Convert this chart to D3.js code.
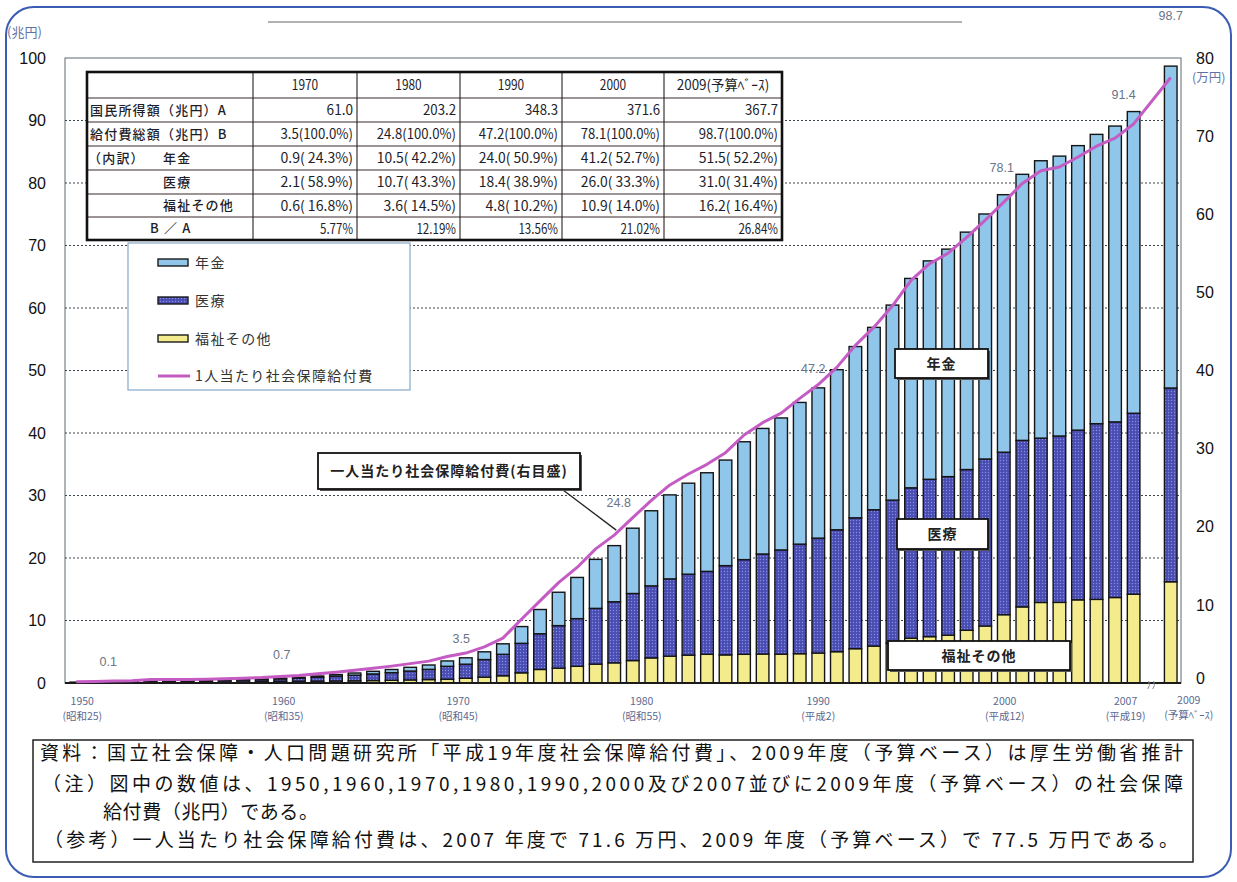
<!DOCTYPE html>
<html lang="ja">
<head>
<meta charset="utf-8">
<script src="https://cdn.jsdelivr.net/npm/d3@7"></script>
<style>
  html, body { margin: 0; padding: 0; background: #fff; }
  svg { display: block; }
</style>
</head>
<body>
<svg id="chart" width="1237" height="882"></svg>
<script>
// 社会保障給付費の部門別推移（兆円）と一人当たり給付費（万円）
const years = d3.range(1950, 2008).concat([2009]);

// 福祉その他（兆円）
const welfare = [0.07,0.07,0.09,0.10,0.12,0.10,0.10,0.11,0.13,0.16,
  0.26,0.27,0.28,0.30,0.32,0.34,0.39,0.43,0.49,0.55,
  0.59,0.76,0.94,1.16,1.63,2.17,2.37,2.67,3.02,3.23,
  3.59,4.02,4.30,4.46,4.59,4.50,4.59,4.64,4.62,4.69,
  4.80,5.01,5.49,5.91,6.36,7.17,7.42,7.65,8.43,9.12,
  10.93,12.18,12.89,12.90,13.31,13.38,13.68,14.21,
  16.2];
// 医療（兆円）
const medical = [0.06,0.08,0.11,0.13,0.18,0.19,0.20,0.22,0.27,0.31,
  0.29,0.39,0.48,0.62,0.77,0.91,1.06,1.23,1.42,1.63,
  2.08,2.25,2.81,3.43,4.72,5.71,6.81,7.63,8.92,9.77,
  10.73,11.52,12.36,12.95,13.27,14.28,15.15,16.00,16.67,17.53,
  18.38,19.51,20.94,21.81,22.90,24.06,25.17,25.37,25.72,26.72,
  26.00,26.64,26.29,26.62,27.15,28.11,28.10,28.95,
  31.0];
// 年金（兆円）
const pension = [0.00,0.01,0.02,0.03,0.08,0.10,0.10,0.11,0.11,0.11,
  0.11,0.13,0.16,0.20,0.26,0.35,0.42,0.50,0.60,0.70,
  0.86,1.02,1.24,1.68,2.68,3.88,5.34,6.59,7.84,8.98,
  10.45,12.02,13.44,14.56,15.78,16.89,18.86,20.09,21.12,22.67,
  24.04,25.61,27.40,29.18,31.21,33.50,34.95,36.40,37.99,39.20,
  41.20,42.57,44.38,44.78,45.52,46.29,47.33,48.27,
  51.5];
// 一人当たり社会保障給付費（万円、右目盛）
const perCapita = [0.15,0.19,0.26,0.30,0.44,0.44,0.45,0.48,0.55,0.62,
  0.70,0.84,0.97,1.17,1.39,1.63,1.89,2.16,2.48,2.80,
  3.40,3.83,4.63,5.74,8.16,10.51,12.84,14.79,17.17,18.93,
  21.16,23.38,25.35,26.75,27.99,29.48,31.74,33.32,34.55,36.43,
  38.20,40.40,43.22,45.55,48.28,51.55,53.67,55.02,57.04,59.24,
  61.55,63.95,65.58,66.05,67.33,68.71,69.74,71.56,
  77.5];

// 数値を表示する年度
const labelYears = [1950, 1960, 1970, 1980, 1990, 2000, 2007, 2009];

// 横軸の目盛
const tickYears = ["1950", "1960", "1970", "1980", "1990", "2000", "2007", "2009"];
const tickEras = ["(昭和25)", "(昭和35)", "(昭和45)", "(昭和55)", "(平成2)", "(平成12)", "(平成19)", "(予算ﾍﾞｰｽ)"];
const leftTicks = d3.range(0, 101, 10);
const rightTicks = d3.range(0, 81, 10);

// 表
const tableHeads = ["1970", "1980", "1990", "2000", "2009(予算ﾍﾞｰｽ)"];
const rowIncome = ["61.0", "203.2", "348.3", "371.6", "367.7"];
const rowTotal = ["3.5(100.0%)", "24.8(100.0%)", "47.2(100.0%)", "78.1(100.0%)", "98.7(100.0%)"];
const rowPension = ["0.9( 24.3%)", "10.5( 42.2%)", "24.0( 50.9%)", "41.2( 52.7%)", "51.5( 52.2%)"];
const rowMedical = ["2.1( 58.9%)", "10.7( 43.3%)", "18.4( 38.9%)", "26.0( 33.3%)", "31.0( 31.4%)"];
const rowWelfare = ["0.6( 16.8%)", "3.6( 14.5%)", "4.8( 10.2%)", "10.9( 14.0%)", "16.2( 16.4%)"];
const rowRatio = ["5.77%", "12.19%", "13.56%", "21.02%", "26.84%"];

const legendNames = ["年金", "医療", "福祉その他", "1人当たり社会保障給付費"];

const footerText = [
  "資料：国立社会保障・人口問題研究所「平成19年度社会保障給付費」、2009年度（予算ベース）は厚生労働省推計",
  "（注）図中の数値は、1950,1960,1970,1980,1990,2000及び2007並びに2009年度（予算ベース）の社会保障",
  "給付費（兆円）である。",
  "（参考）一人当たり社会保障給付費は、2007 年度で 71.6 万円、2009 年度（予算ベース）で 77.5 万円である。"
];

// ---------- layout ----------
const JP = "'Noto Sans CJK JP', 'Noto Sans', sans-serif";
const NUM = "'Liberation Sans', Arial, sans-serif";
const COL = { pension: "#8fc6ea", medBase: "#4a4cb2", medDot: "#8190e2", welfare: "#f4ec8c", line: "#c45cc4" };
const plot = { left: 65, right: 1181, top: 58, bottom: 683 };

const svg = d3.select("#chart");

const x = d3.scaleBand()
  .domain(d3.range(1950, 2010).map(String))
  .range([67, 1180])
  .paddingInner(0.32)
  .paddingOuter(0.16);
const bw = x.bandwidth();
const cx = yr => x(String(yr)) + bw / 2;
const yL = d3.scaleLinear().domain([0, 100]).range([plot.bottom, plot.top]);
const yR = d3.scaleLinear().domain([0, 80]).range([plot.bottom, plot.top]);

// patterns
const defs = svg.append("defs");
const pat = defs.append("pattern").attr("id", "medDots")
  .attr("width", 3).attr("height", 3).attr("patternUnits", "userSpaceOnUse");
pat.append("rect").attr("width", 3).attr("height", 3).attr("fill", COL.medBase);
pat.append("circle").attr("cx", 1.5).attr("cy", 1.5).attr("r", 0.7).attr("fill", COL.medDot);

// outer rounded frame and top rule
svg.append("rect").attr("x", 6).attr("y", 7).attr("width", 1225).attr("height", 870)
  .attr("rx", 28).attr("fill", "none").attr("stroke", "#3a5cb4").attr("stroke-width", 2);
svg.append("line").attr("x1", 268).attr("x2", 962).attr("y1", 22).attr("y2", 22)
  .attr("stroke", "#9a9a9a").attr("stroke-width", 1.5);

// plot frame
svg.append("rect").attr("x", plot.left).attr("y", plot.top)
  .attr("width", plot.right - plot.left).attr("height", plot.bottom - plot.top)
  .attr("fill", "none").attr("stroke", "#5a6a70").attr("stroke-width", 1);

// grid
svg.append("g").selectAll("line").data(leftTicks.filter(v => v > 0 && v < 100)).join("line")
  .attr("x1", plot.left).attr("x2", plot.right)
  .attr("y1", d => yL(d)).attr("y2", d => yL(d))
  .attr("stroke", "#3c4650").attr("stroke-width", 1).attr("stroke-dasharray", "2,2");

// bars
const rows = years.map((yr, i) => ({ year: String(yr), welfare: welfare[i], medical: medical[i], pension: pension[i] }));
const series = d3.stack().keys(["welfare", "medical", "pension"])(rows);
const fillOf = { welfare: COL.welfare, medical: "url(#medDots)", pension: COL.pension };
svg.append("g").selectAll("g").data(series).join("g")
  .attr("fill", s => fillOf[s.key])
  .selectAll("rect").data(s => s).join("rect")
  .attr("x", d => x(d.data.year))
  .attr("width", bw)
  .attr("y", d => yL(d[1]))
  .attr("height", d => Math.max(0, yL(d[0]) - yL(d[1])))
  .attr("stroke", "#151515").attr("stroke-width", 1.4);

// baseline
svg.append("line").attr("x1", plot.left).attr("x2", plot.right)
  .attr("y1", plot.bottom).attr("y2", plot.bottom)
  .attr("stroke", "#1a1a1a").attr("stroke-width", 2);

// axis break mark in the empty 2008 slot
const bx = cx(2008);
svg.append("g").selectAll("path").data([-2.5, 2.5]).join("path")
  .attr("d", d => `M${bx + d - 2},${plot.bottom + 6} q3,-3 1,-8`)
  .attr("fill", "none").attr("stroke", "#8a8a8a").attr("stroke-width", 1);

// per-capita line
const lineData = years.map((yr, i) => ({ year: yr, v: perCapita[i] }));
svg.append("path").datum(lineData)
  .attr("d", d3.line().x(d => cx(d.year)).y(d => yR(d.v)))
  .attr("fill", "none").attr("stroke", COL.line).attr("stroke-width", 3)
  .attr("stroke-linejoin", "round");

// left axis
const axL = svg.append("g").attr("transform", "translate(46,0)")
  .call(d3.axisLeft(yL).tickValues(leftTicks).tickSize(0).tickPadding(0).tickFormat(d3.format("d")));
axL.select(".domain").remove();
axL.selectAll("text").attr("font-family", NUM).attr("font-size", 16).attr("fill", "#111");
svg.append("text").attr("x", 7).attr("y", 37).text("(兆円)")
  .attr("font-family", JP).attr("font-size", 13).attr("fill", "#5f74a6");

// right axis
const axR = svg.append("g").attr("transform", "translate(1196,0)")
  .call(d3.axisRight(yR).tickValues(rightTicks).tickSize(0).tickPadding(0).tickFormat(d3.format("d")));
axR.select(".domain").remove();
axR.selectAll("text").attr("font-family", NUM).attr("font-size", 16).attr("fill", "#111");
axR.selectAll(".tick").filter(d => d === 0).select("text").attr("y", -5);
svg.append("text").attr("x", 1192).attr("y", 82).text("(万円)")
  .attr("font-family", JP).attr("font-size", 12.5).attr("fill", "#5f74a6");

// x labels
const tickShift = { "1950": 6, "1960": 22, "1970": 11, "1980": 9, "1990": 0, "2000": 1, "2007": -8, "2009": 18 };
const xl = svg.append("g").attr("font-family", JP).attr("font-size", 10.5).attr("fill", "#5b6a92").attr("text-anchor", "middle");
tickYears.forEach((t, i) => {
  const tx = cx(+t) + tickShift[t];
  const hi = t === "2009" ? -1 : 0;
  xl.append("text").attr("x", tx).attr("y", 705 + hi).text(t);
  xl.append("text").attr("x", tx).attr("y", 720 + hi).text(tickEras[i]);
});

// value labels
const valShift = { 1950: [32, -21], 1960: [20, -24], 1970: [14, -22], 1980: [-14, -26], 1990: [-5, -19], 2000: [-2, -27], 2007: [-10, -17], 2009: [0, -51] };
svg.append("g").selectAll("text").data(labelYears).join("text")
  .attr("x", yr => cx(yr) + valShift[yr][0])
  .attr("y", yr => { const i = years.indexOf(yr); return yL(welfare[i] + medical[i] + pension[i]) + valShift[yr][1]; })
  .attr("dy", "0.35em").attr("text-anchor", "middle")
  .attr("font-family", NUM).attr("font-size", 12.5).attr("fill", "#6a7588")
  .text(yr => { const i = years.indexOf(yr); return (welfare[i] + medical[i] + pension[i]).toFixed(1); });

// ---------- table ----------
const tc = [87, 253, 357, 460, 562, 664, 782];
const tr = [72, 98, 122, 146, 170, 194, 217, 240];
const tg = svg.append("g");
tg.append("rect").attr("x", tc[0]).attr("y", tr[0]).attr("width", tc[6] - tc[0]).attr("height", tr[7] - tr[0]).attr("fill", "#fff");
tr.slice(1, -1).forEach(yy => tg.append("line").attr("x1", tc[0]).attr("x2", tc[6]).attr("y1", yy).attr("y2", yy).attr("stroke", "#3a2a2a").attr("stroke-width", 1.1));
tc.slice(1, -1).forEach(xx => tg.append("line").attr("x1", xx).attr("x2", xx).attr("y1", tr[0]).attr("y2", tr[7]).attr("stroke", "#2a2020").attr("stroke-width", 1.1));
tg.append("rect").attr("x", tc[0]).attr("y", tr[0]).attr("width", tc[6] - tc[0]).attr("height", tr[7] - tr[0])
  .attr("fill", "none").attr("stroke", "#111").attr("stroke-width", 2.6);

const units = s => Array.from(s).reduce((a, ch) => a + (/[\u3000-\u30ff\u4e00-\u9fff\uff01-\uff5e]/.test(ch) ? 2 : 1), 0);
function cellText(str, xx, yy, anchor) {
  tg.append("text").attr("x", xx).attr("y", yy).attr("dy", "0.36em").attr("text-anchor", anchor)
    .attr("font-family", JP).attr("font-size", 14).attr("fill", "#1e1e2a")
    .attr("textLength", units(str) * 6.6).attr("lengthAdjust", "spacingAndGlyphs")
    .text(str);
}
const tableRows = [rowIncome, rowTotal, rowPension, rowMedical, rowWelfare, rowRatio];
tableHeads.forEach((h, j) => cellText(h, (tc[j + 1] + tc[j + 2]) / 2, (tr[0] + tr[1]) / 2, "middle"));
tableRows.forEach((row, r) => row.forEach((v, j) => cellText(v, tc[j + 2] - 4, (tr[r + 1] + tr[r + 2]) / 2, "end")));

const rowLabels = [
  { t: "国民所得額（兆円）A", x: 90, r: 0 },
  { t: "給付費総額（兆円）B", x: 90, r: 1 },
  { t: "（内訳）", x: 88, r: 2 },
  { t: "年金", x: 163, r: 2 },
  { t: "医療", x: 163, r: 3 },
  { t: "福祉その他", x: 163, r: 4 },
  { t: "B ／ A", x: 150, r: 5 }
];
rowLabels.forEach(l => {
  tg.append("text").attr("x", l.x).attr("y", (tr[l.r + 1] + tr[l.r + 2]) / 2).attr("dy", "0.36em")
    .attr("font-family", JP).attr("font-size", 13).attr("letter-spacing", 1.2)
    .attr("font-weight", 500).attr("fill", "#1e1e2a").text(l.t);
});

// ---------- legend ----------
const lg = svg.append("g");
lg.append("rect").attr("x", 128).attr("y", 243).attr("width", 282).attr("height", 147)
  .attr("fill", "#fff").attr("stroke", "#86a8c6").attr("stroke-width", 1.2);
const legY = [263, 301, 339, 376];
const legFill = [COL.pension, "url(#medDots)", COL.welfare];
legendNames.forEach((n, i) => {
  if (i < 3) {
    lg.append("rect").attr("x", 158).attr("y", legY[i] - 4).attr("width", 30).attr("height", 7)
      .attr("fill", legFill[i]).attr("stroke", "#1a1a1a").attr("stroke-width", 1.4);
  } else {
    lg.append("line").attr("x1", 158).attr("x2", 190).attr("y1", legY[i]).attr("y2", legY[i])
      .attr("stroke", COL.line).attr("stroke-width", 3);
  }
  lg.append("text").attr("x", 195).attr("y", legY[i]).attr("dy", "0.36em")
    .attr("font-family", JP).attr("font-size", 14).attr("letter-spacing", 1.4).attr("fill", "#333")
    .text(n);
});

// ---------- callout boxes ----------
function callout(bx0, by0, w, h, label, fs) {
  const g = svg.append("g");
  g.append("rect").attr("x", bx0 + 2).attr("y", by0 + 2).attr("width", w).attr("height", h).attr("fill", "#555");
  g.append("rect").attr("x", bx0).attr("y", by0).attr("width", w).attr("height", h)
    .attr("fill", "#fff").attr("stroke", "#111").attr("stroke-width", 1.8);
  g.append("text").attr("x", bx0 + w / 2).attr("y", by0 + h / 2).attr("dy", "0.36em").attr("text-anchor", "middle")
    .attr("font-family", JP).attr("font-size", fs).attr("font-weight", "bold").attr("letter-spacing", 1).attr("fill", "#222")
    .text(label);
}
// leader from the per-capita label to its curve
const lp = lineData.find(d => d.year === 1979);
svg.append("line").attr("x1", 563).attr("y1", 490).attr("x2", cx(lp.year) + 2).attr("y2", yR(lp.v) - 5)
  .attr("stroke", "#222").attr("stroke-width", 1.3);
callout(318, 453, 262, 36, "一人当たり社会保障給付費(右目盛)", 14);
callout(895, 349, 93, 29, "年金", 14);
callout(897, 519, 91, 30, "医療", 14);
callout(888, 641, 182, 29, "福祉その他", 14);

// ---------- footer ----------
const fg = svg.append("g");
fg.append("rect").attr("x", 33).attr("y", 740).attr("width", 1160).attr("height", 122)
  .attr("fill", "#fff").attr("stroke", "#222").attr("stroke-width", 1.5);
const footPos = [[40, 753, 1143], [42, 784, 1141], [103, 812, 215], [44, 840, 1134]];
footerText.forEach((t, i) => {
  fg.append("text").attr("x", footPos[i][0]).attr("y", footPos[i][1]).attr("dy", "0.36em")
    .attr("font-family", JP).attr("font-size", 19).attr("fill", "#111")
    .attr("textLength", footPos[i][2]).attr("lengthAdjust", "spacing")
    .text(t);
});
</script>
</body>
</html>
